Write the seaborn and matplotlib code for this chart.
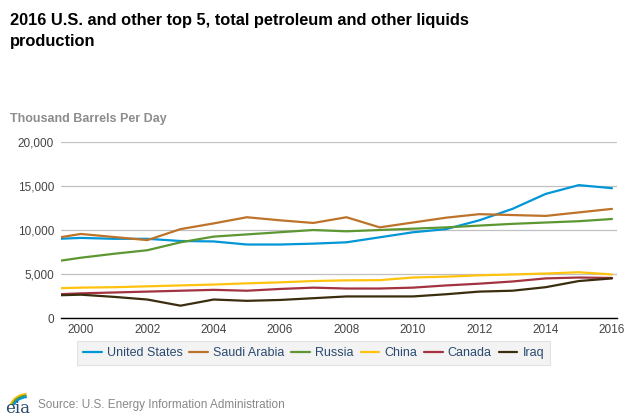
import numpy as np
import pandas as pd
import matplotlib
matplotlib.use("Agg")
import matplotlib.pyplot as plt
import seaborn as sns
from matplotlib.patches import Arc

years = list(range(1999, 2017))
united_states = [8.95, 9.1, 9.0, 9.0, 8.75, 8.7, 8.35, 8.35, 8.45, 8.6, 9.17, 9.74, 10.1, 11.1, 12.4, 14.1, 15.1, 14.75]
saudi_arabia = [8.95, 9.55, 9.2, 8.85, 10.1, 10.75, 11.45, 11.1, 10.8, 11.45, 10.3, 10.85, 11.4, 11.8, 11.7, 11.6, 12.0, 12.4]
russia = [6.3, 6.85, 7.3, 7.7, 8.6, 9.25, 9.5, 9.75, 10.0, 9.85, 10.0, 10.15, 10.3, 10.5, 10.7, 10.85, 11.0, 11.25]
china = [3.35, 3.45, 3.5, 3.6, 3.7, 3.8, 3.94, 4.05, 4.2, 4.28, 4.3, 4.6, 4.7, 4.85, 4.95, 5.05, 5.2, 4.95]
canada = [2.65, 2.8, 2.9, 3.0, 3.1, 3.2, 3.1, 3.3, 3.45, 3.35, 3.35, 3.45, 3.7, 3.9, 4.15, 4.5, 4.6, 4.55]
iraq = [2.55, 2.65, 2.4, 2.1, 1.4, 2.1, 1.95, 2.05, 2.25, 2.45, 2.45, 2.45, 2.7, 3.0, 3.1, 3.5, 4.2, 4.5]

countries = ["United States", "Saudi Arabia", "Russia", "China", "Canada", "Iraq"]
colors = ["#0096d7", "#bd732a", "#5d9732", "#ffc20e", "#a33340", "#3b2e0f"]
series = [united_states, saudi_arabia, russia, china, canada, iraq]

rows = []
for name, vals in zip(countries, series):
    for y, v in zip(years, vals):
        rows.append({"Year": y, "Value": v * 1000, "Country": name})
df = pd.DataFrame(rows)

sns.set_theme(style="white")
plt.rcParams['font.family'] = ['Liberation Sans', 'DejaVu Sans']

fig = plt.figure(figsize=(6.28, 4.19), dpi=100)
ax = fig.add_axes([61/628, 1-318/419, (617-61)/628, (318-142)/419])

sns.lineplot(data=df, x="Year", y="Value", hue="Country", hue_order=countries,
             palette=colors, linewidth=1.6, ax=ax, legend=False)

ax.set_xlim(1999.4, 2016.15)
ax.set_ylim(0, 20000)
ax.set_yticks([0, 5000, 10000, 15000, 20000])
ax.set_yticklabels(["0", "5,000", "10,000", "15,000", "20,000"])
ax.set_xticks(list(range(2000, 2017, 2)))
ax.set_xticklabels([str(y) for y in range(2000, 2017, 2)])
ax.grid(axis="y", color="#c0c0c0", linewidth=0.9)
ax.set_axisbelow(True)
for s in ["top", "right", "left"]:
    ax.spines[s].set_visible(False)
ax.spines["bottom"].set_color("#000000")
ax.spines["bottom"].set_linewidth(1.0)
ax.tick_params(axis="both", colors="#444444", labelsize=8.5, length=0, pad=5)
ax.tick_params(axis="x", pad=4)
ax.set_xlabel("")
ax.set_ylabel("")

fig.text(10/628, 1-31/419, "2016 U.S. and other top 5, total petroleum and other liquids\nproduction",
         fontsize=11.8, fontweight="bold", color="#000000", va="center", ha="left", linespacing=1.5)
fig.text(10/628, 1-119/419, "Thousand Barrels Per Day", fontsize=9, fontweight="bold",
         color="#8c8c8c", va="center", ha="left")

# legend
handles = [plt.Line2D([0], [0], color=c, lw=1.6) for c in colors]
leg = fig.legend(handles, countries, loc="center", bbox_to_anchor=(313.5/628, 1-353/419),
                 ncol=6, frameon=True, fontsize=9, handlelength=1.5, handletextpad=0.4,
                 columnspacing=0.55, borderpad=0.45, borderaxespad=0, fancybox=False)
leg.get_frame().set_facecolor("#f0f0f0")
leg.get_frame().set_edgecolor("#dddddd")
leg.get_frame().set_linewidth(0.8)
for t in leg.get_texts():
    t.set_color("#2b4a6f")

# source and logo
fig.text(38/628, 1-405/419, "Source: U.S. Energy Information Administration", fontsize=8.5,
         color="#888888", va="center", ha="left")
fig.text(5/628, 1-408/419, "eia", fontsize=12, family="DejaVu Serif", color="#2b4a6f",
         va="center", ha="left")
lax = fig.add_axes([5/628, 1-405/419, 26/628, 16/419])
lax.set_xlim(0, 1); lax.set_ylim(0, 1); lax.axis("off")
for i, c in enumerate(["#ffc20e", "#5d9732", "#0096d7"]):
    lax.add_patch(Arc((0.9, -0.2), 1.4 - i*0.12, 1.8 - i*0.2, theta1=95, theta2=175, color=c, lw=1.5))

fig.savefig("out.png", dpi=100)
